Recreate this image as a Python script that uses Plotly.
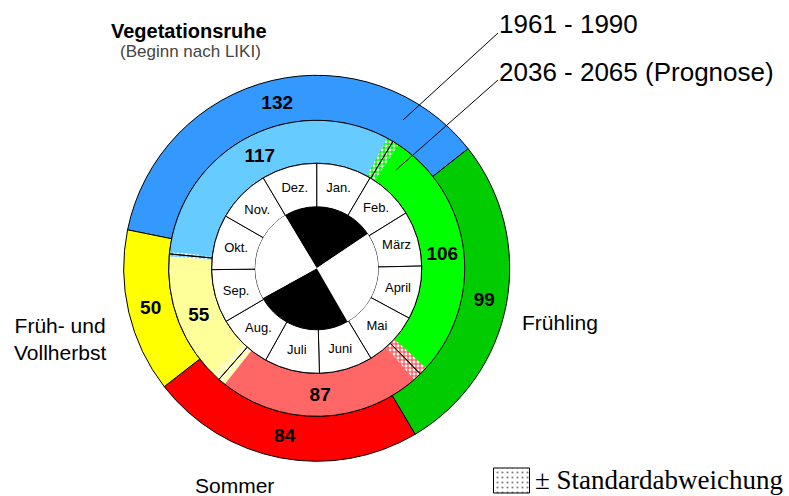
import plotly.graph_objects as go

W, H = 789, 496
CX, CY = 316.7, 268.3          # centre of the rings in pixels

# season lengths in days, order: Vegetationsruhe, Frühling, Sommer, Früh-/Vollherbst
seasons = ['Vegetationsruhe', 'Frühling', 'Sommer', 'Früh- und Vollherbst']
days_1961_1990 = [132, 99, 84, 50]
days_2036_2065 = [117, 106, 87, 55]
# +- standard deviation (days) of the season starts (prognosis):
# Vegetationsruhe, Frühling, Sommer, Früh-/Vollherbst
sd_start_2036 = [1.0, 2.6, 3.3, 3.0]

months = ['Jan.', 'Feb.', 'März', 'April', 'Mai', 'Juni',
          'Juli', 'Aug.', 'Sep.', 'Okt.', 'Nov.', 'Dez.']
month_days = [31, 28, 31, 30, 31, 30, 31, 31, 30, 31, 30, 31]

# black / white sectors of the centre disc (degrees)
center_sectors = [87, 94, 91, 88]

col_old = ['#3399FF', '#00CC00', '#FF0000', '#FFFF00']
col_new = ['#66CCFF', '#00FF00', '#FF6666', '#FFFF99']

rot_old = -78.5
rot_new = -84.4

R_OUT, R_MID, R_MON, R_CEN = 193, 148, 105, 61.5
font = 'Arial, Liberation Sans'


def dom(r):
    return dict(x=[(CX - r) / W, (CX + r) / W],
                y=[1 - (CY + r) / H, 1 - (CY - r) / H])


fig = go.Figure()

# outer ring 1961-1990
fig.add_trace(go.Pie(
    values=days_1961_1990, labels=seasons, domain=dom(R_OUT), hole=R_MID / R_OUT,
    sort=False, direction='clockwise', rotation=rot_old,
    marker=dict(colors=col_old, line=dict(color='black', width=1)),
    texttemplate='<b>%{value}</b>', textposition='inside',
    insidetextorientation='horizontal',
    textfont=dict(family=font, size=19, color='black'),
    showlegend=False, hoverinfo='label+value'))

# middle ring 2036-2065
fig.add_trace(go.Pie(
    values=days_2036_2065, labels=seasons, domain=dom(R_MID), hole=R_MON / R_MID,
    sort=False, direction='clockwise', rotation=rot_new,
    marker=dict(colors=col_new, line=dict(width=0)),
    texttemplate='<b>%{value}</b>', textposition='inside',
    insidetextorientation='horizontal',
    textfont=dict(family=font, size=19, color='black'),
    showlegend=False, hoverinfo='label+value'))

# stipple bands: +- sd around each season start, transparent gaps in between
starts = [0]
for d in days_2036_2065[:-1]:
    starts.append(starts[-1] + d)
band_vals, band_cols, band_fg, band_shape = [], [], [], []
cur = -sd_start_2036[0]
for i in range(4):
    lo, hi = starts[i] - sd_start_2036[i], starts[i] + sd_start_2036[i]
    if lo > cur:
        band_vals.append(lo - cur)
        band_cols.append('rgba(0,0,0,0)')
        band_fg.append('rgba(0,0,0,0)')
        band_shape.append('')
    band_vals.append(hi - lo)
    band_cols.append(col_new[i])
    band_fg.append('white')
    band_shape.append('.')
    cur = hi
band_vals.append(365 - sd_start_2036[0] - cur)
band_cols.append('rgba(0,0,0,0)')
band_fg.append('rgba(0,0,0,0)')
band_shape.append('')

fig.add_trace(go.Pie(
    values=band_vals, domain=dom(R_MID), hole=R_MON / R_MID,
    sort=False, direction='clockwise', rotation=rot_new - sd_start_2036[0] * 360 / 365,
    marker=dict(colors=band_cols, line=dict(width=0),
                pattern=dict(shape=band_shape, fgcolor=band_fg, bgcolor=band_cols,
                             size=4, solidity=0.4)),
    textinfo='none', showlegend=False, hoverinfo='skip'))

# outlines of the middle ring
fig.add_trace(go.Pie(
    values=days_2036_2065, domain=dom(R_MID), hole=R_MON / R_MID,
    sort=False, direction='clockwise', rotation=rot_new,
    marker=dict(colors=['rgba(0,0,0,0)'] * 4, line=dict(color='black', width=1)),
    textinfo='none', showlegend=False, hoverinfo='skip'))

# month ring
fig.add_trace(go.Pie(
    values=month_days, labels=months, domain=dom(R_MON), hole=R_CEN / R_MON,
    sort=False, direction='clockwise', rotation=0,
    marker=dict(colors=['white'] * 12, line=dict(color='black', width=1)),
    textinfo='label', textposition='inside', insidetextorientation='horizontal',
    textfont=dict(family=font, size=13, color='black'),
    showlegend=False, hoverinfo='label'))

# centre disc
fig.add_trace(go.Pie(
    values=center_sectors, domain=dom(R_CEN),
    sort=False, direction='clockwise', rotation=-31,
    marker=dict(colors=['black', 'white', 'black', 'white'], line=dict(width=0)),
    textinfo='none', showlegend=False, hoverinfo='skip'))

# legend box for the standard deviation
fig.add_trace(go.Bar(
    x=[511.5], y=[25], base=[468], width=[36],
    marker=dict(color='white', line=dict(color='black', width=1),
                pattern=dict(shape='.', fgcolor='black', bgcolor='white', size=5, solidity=0.15)),
    showlegend=False, hoverinfo='skip'))

ann = [
    dict(x=189, y=31, text='<b>Vegetationsruhe</b>', size=20, color='black'),
    dict(x=190, y=51, text='(Beginn nach LIKI)', size=17, color='#444444'),
    dict(x=560, y=322, text='Frühling', size=21, color='black'),
    dict(x=60, y=339, text='Früh- und<br>Vollherbst', size=21, color='black'),
    dict(x=234, y=485, text='Sommer', size=21, color='black'),
]
annotations = [dict(x=a['x'], y=a['y'], xref='x', yref='y', text=a['text'], showarrow=False,
                    font=dict(family=font, size=a['size'], color=a['color']),
                    xanchor='center', yanchor='middle') for a in ann]
annotations += [
    dict(x=497, y=24, xref='x', yref='y', text='1961 - 1990', showarrow=False,
         font=dict(family=font, size=26, color='black'), xanchor='left', yanchor='middle'),
    dict(x=497, y=72, xref='x', yref='y', text='2036 - 2065 (Prognose)', showarrow=False,
         font=dict(family=font, size=26, color='black'), xanchor='left', yanchor='middle'),
    dict(x=533, y=480, xref='x', yref='y', text='± Standardabweichung', showarrow=False,
         font=dict(family='Times New Roman, Liberation Serif', size=27, color='black'),
         xanchor='left', yanchor='middle'),
]

shapes = [
    dict(type='line', xref='x', yref='y', x0=498, y0=33, x1=403, y1=120,
         line=dict(color='black', width=1)),
    dict(type='line', xref='x', yref='y', x0=498, y0=80, x1=396, y1=170,
         line=dict(color='black', width=1)),
]

fig.update_layout(
    width=W, height=H, margin=dict(l=0, r=0, t=0, b=0),
    paper_bgcolor='white', plot_bgcolor='rgba(0,0,0,0)',
    xaxis=dict(range=[0, W], visible=False, fixedrange=True),
    yaxis=dict(range=[H, 0], visible=False, fixedrange=True),
    annotations=annotations, shapes=shapes,
)

# page body has a default margin of 8px, drop it so the figure fills the window
fig.write_html("out.html", config={'displayModeBar': False},
               post_script="document.body.style.margin='0';")
